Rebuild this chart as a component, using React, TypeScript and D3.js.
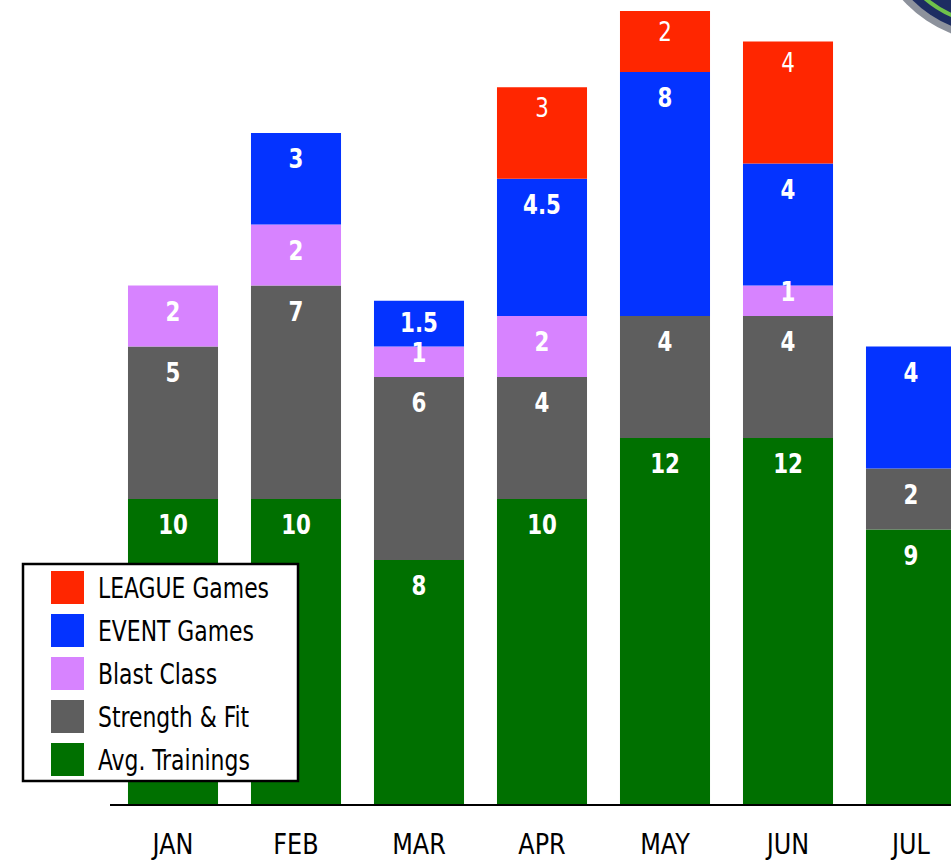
import { useEffect, useRef } from 'react';
import * as d3 from 'd3';

const months = ['JAN', 'FEB', 'MAR', 'APR', 'MAY', 'JUN', 'JUL'];
const trainings = [10, 10, 8, 10, 12, 12, 9];
const strength = [5, 7, 6, 4, 4, 4, 2];
const blast = [2, 2, 1, 2, 0, 1, 0];
const eventGames = [0, 3, 1.5, 4.5, 8, 4, 4];
const leagueGames = [0, 0, 0, 3, 2, 4, 0];

const seriesKeys = ['trainings', 'strength', 'blast', 'event', 'league'];
const seriesNames = ['Avg. Trainings', 'Strength & Fit', 'Blast Class', 'EVENT Games', 'LEAGUE Games'];
const seriesColors = ['#007000', '#5e5e5e', '#d783ff', '#0433ff', '#ff2600'];

const FONT = '"DejaVu Sans Condensed", "DejaVu Sans", sans-serif';

// squeeze text horizontally to mimic the narrow face of the original
function squeezedText(parent: any, x: number, y: number, sx: number, str: string) {
  return parent.append('g')
    .attr('transform', `translate(${x},${y}) scale(${sx},1)`)
    .append('text')
    .attr('font-family', FONT)
    .text(str);
}

export default function App() {
  const ref = useRef<HTMLDivElement>(null);

  useEffect(() => {
    const width = 951;
    const height = 860;
    const baseY = 804;

    const rows = months.map((m, i) => ({
      month: m,
      trainings: trainings[i],
      strength: strength[i],
      blast: blast[i],
      event: eventGames[i],
      league: leagueGames[i],
    }));

    const x = d3.scaleBand().domain(months).range([111.5, 972.5]).paddingInner(0.268).paddingOuter(0.134);
    const y = d3.scaleLinear().domain([0, 26]).range([baseY, 11]);
    const color = d3.scaleOrdinal<string, string>().domain(seriesKeys).range(seriesColors);

    const stacked = d3.stack<any>().keys(seriesKeys)(rows);

    const svg = d3.create('svg').attr('width', width).attr('height', height)
      .style('display', 'block').style('position', 'absolute').style('left', 0).style('top', 0);

    // logo fragment in the corner
    const logo = svg.append('g');
    logo.append('circle').attr('cx', 997).attr('cy', -85).attr('r', 127).attr('fill', '#8d929c');
    logo.append('circle').attr('cx', 997).attr('cy', -85).attr('r', 120).attr('fill', '#1d2d62');
    logo.append('path')
      .attr('d', d3.arc()({ innerRadius: 108, outerRadius: 112, startAngle: -2.1, endAngle: -2.75 } as any) as string)
      .attr('transform', 'translate(997,-85)')
      .attr('fill', '#6fc24a');

    // bars
    const layer = svg.append('g').selectAll('g').data(stacked).join('g')
      .attr('fill', (d) => color(d.key));
    layer.selectAll('rect').data((d) => d.filter((s) => s[1] - s[0] > 0)).join('rect')
      .attr('x', (d: any) => x(d.data.month)!)
      .attr('width', x.bandwidth())
      .attr('y', (d) => y(d[1]))
      .attr('height', (d) => y(d[0]) - y(d[1]));

    // value labels
    stacked.forEach((s) => {
      s.forEach((d: any) => {
        const v = d[1] - d[0];
        if (v <= 0) return;
        const top = y(d[1]);
        const h = y(d[0]) - top;
        const isLeague = s.key === 'league';
        const off = isLeague ? 30 : Math.min(35, h - 15);
        squeezedText(svg, x(d.data.month)! + x.bandwidth() / 2, top + off, 0.88, String(v))
          .attr('text-anchor', 'middle')
          .attr('fill', '#fff')
          .attr('font-weight', isLeague ? 'normal' : 'bold')
          .attr('font-size', 27);
      });
    });

    // baseline
    svg.append('line').attr('x1', 110).attr('x2', width).attr('y1', baseY + 1).attr('y2', baseY + 1)
      .attr('stroke', '#000').attr('stroke-width', 2);

    // month labels
    months.forEach((m) => {
      squeezedText(svg, x(m)! + x.bandwidth() / 2, 854, 0.95, m)
        .attr('text-anchor', 'middle')
        .attr('font-size', 28)
        .attr('fill', '#000');
    });

    // legend
    const lg = svg.append('g');
    lg.append('rect').attr('x', 23).attr('y', 564).attr('width', 275).attr('height', 217)
      .attr('fill', '#fff').attr('stroke', '#000').attr('stroke-width', 2.5);
    const legendOrder = [...seriesKeys].reverse();
    legendOrder.forEach((k, i) => {
      const yy = 571 + i * 43;
      lg.append('rect').attr('x', 51).attr('y', yy).attr('width', 33).attr('height', 33).attr('fill', color(k));
      squeezedText(lg, 98, yy + 27, 0.84, seriesNames[seriesKeys.indexOf(k)])
        .attr('font-size', 29)
        .attr('fill', '#000');
    });

    ref.current!.innerHTML = '';
    ref.current!.appendChild(svg.node()!);
  }, []);

  return <div ref={ref} style={{ width: 951, height: 860 }} />;
}
